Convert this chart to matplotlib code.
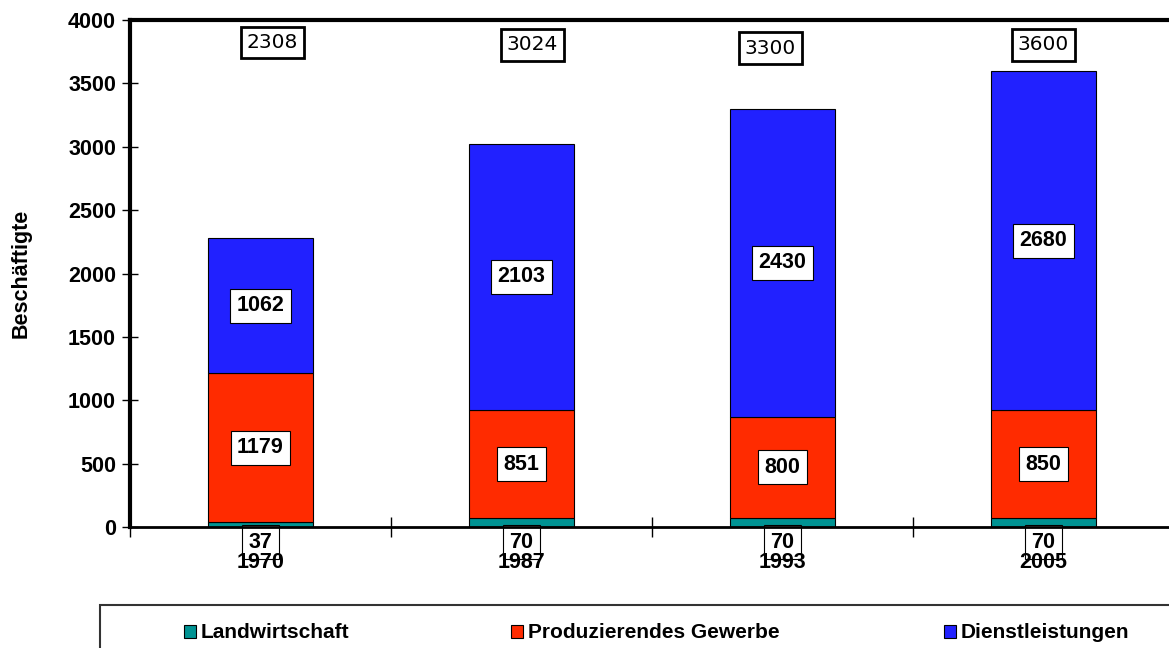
import matplotlib
matplotlib.use("Agg")
import matplotlib.pyplot as plt
from matplotlib.patches import Rectangle, Patch
import numpy as np

years = ["1970", "1987", "1993", "2005"]
landwirtschaft = [37, 70, 70, 70]
produzierend = [1179, 851, 800, 850]
dienst = [1062, 2103, 2430, 2680]
totals = [2308, 3024, 3300, 3600]
series_names = ["Landwirtschaft", "Produzierendes Gewerbe", "Dienstleistungen"]
colors = ["#009393", "#FF2B00", "#2121FF"]

plt.rcParams['font.family'] = ['Liberation Sans', 'DejaVu Sans']
FS = 15.5

fig = plt.figure(figsize=(11.69, 6.48), dpi=100)
ax = fig.add_axes([130/1169, 1-527/648, 1044/1169, 507/648])

x = np.arange(len(years))
w = 0.40
b0 = np.zeros(len(years))
stack = [landwirtschaft, produzierend, dienst]
for vals, c in zip(stack, colors):
    ax.bar(x, vals, width=w, bottom=b0, color=c, edgecolor='black', linewidth=0.8, zorder=1)
    b0 = b0 + np.array(vals)

# segment labels
bbox_seg = dict(boxstyle='square,pad=0.3', facecolor='white', edgecolor='black', linewidth=0.8)
for i in range(len(years)):
    # Landwirtschaft label pushed below axis
    ax.text(x[i], -120, str(landwirtschaft[i]), ha='center', va='center', fontsize=FS,
            fontweight='bold', bbox=bbox_seg, zorder=1.2, clip_on=False)
    ymid = landwirtschaft[i] + produzierend[i] / 2
    ax.text(x[i], ymid, str(produzierend[i]), ha='center', va='center', fontsize=FS,
            fontweight='bold', bbox=bbox_seg, zorder=3)
    ymid = landwirtschaft[i] + produzierend[i] + dienst[i] / 2
    ax.text(x[i], ymid, str(dienst[i]), ha='center', va='center', fontsize=FS,
            fontweight='bold', bbox=bbox_seg, zorder=3)

# total labels
tot_dx = [0.046, 0.042, -0.046, 0.0]
tot_y = [3819, 3803, 3779, 3803]
bbox_tot = dict(boxstyle='square,pad=0.3', facecolor='white', edgecolor='black', linewidth=2)
for i in range(len(years)):
    ax.text(x[i] + tot_dx[i], tot_y[i], str(totals[i]), ha='center', va='center',
            fontsize=14.5, family='DejaVu Sans', bbox=bbox_tot, zorder=3)

ax.set_xlim(-0.5, len(years) - 0.5)
ax.set_ylim(0, 4000)
ax.set_yticks(np.arange(0, 4001, 500))
ax.tick_params(axis='y', direction='inout', length=12, width=1, labelsize=FS, pad=4)
for t in ax.get_yticklabels():
    t.set_fontweight('bold')

ax.set_xticks(x)
ax.set_xticklabels(years, fontsize=FS, fontweight='bold')
ax.tick_params(axis='x', which='major', length=0, pad=18)
ax.set_xticks(np.arange(-0.5, len(years), 1.0), minor=True)
ax.tick_params(axis='x', which='minor', direction='inout', length=14, width=1)

ax.spines['left'].set_linewidth(3)
ax.spines['top'].set_linewidth(3)
ax.spines['bottom'].set_linewidth(2)
ax.spines['right'].set_linewidth(3)

ax.set_ylabel("Beschäftigte", fontsize=FS, fontweight='bold', labelpad=26)

# legend frame
fig.patches.append(Rectangle((100/1169, -0.1), 1.2, (648-605)/648 + 0.1,
                             transform=fig.transFigure, facecolor='white',
                             edgecolor='#333333', linewidth=1.5))
handles = [Patch(facecolor=c, edgecolor='black', linewidth=0.8) for c in colors]
leg_x = [183, 510, 943]
for h, name, lx in zip(handles, series_names, leg_x):
    fig.legend([h], [name], loc='center left',
               bbox_to_anchor=(lx/1169 - 0.0152, 1 - 633/648), frameon=False,
               handlelength=0.6, handleheight=0.6, handletextpad=0.2,
               prop=dict(size=15, weight='bold'))

fig.savefig("out.png", dpi=100)
